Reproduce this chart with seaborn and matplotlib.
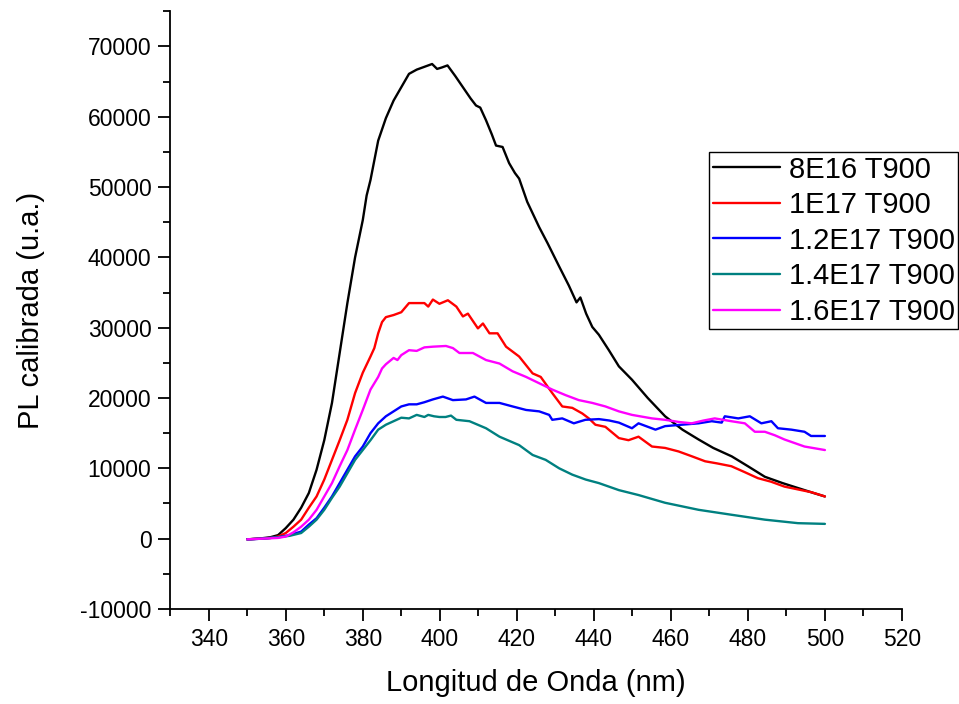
import matplotlib
matplotlib.use("Agg")
import matplotlib.pyplot as plt
from matplotlib.ticker import MultipleLocator
import pandas as pd
import seaborn as sns

# Photoluminescence spectra, samples annealed at 900
series_names = ["8E16 T900", "1E17 T900", "1.2E17 T900", "1.4E17 T900", "1.6E17 T900"]
series_colors = ["#000000", "#FF0000", "#0000FF", "#008080", "#FF00FF"]

wl_8e16 = [350, 353, 356, 358, 360, 362, 364, 366, 368, 370, 372, 374, 376, 378, 380,
           381, 382, 384, 386, 388, 390, 392, 394, 396, 398, 399.3, 400.5, 402, 404, 406,
           408, 409.4, 410.5, 412, 413.5, 414.6, 416.3, 418, 419.5, 420.6, 422.7, 425.8, 428,
           431, 433.5, 435.5, 436.5, 438, 439.6, 441.3, 443.9, 446.5, 449.9, 454, 458.5, 463,
           467.2, 471, 475.8, 480, 484.4, 489, 493, 497, 500]
pl_8e16 = [-100, 0, 200, 500, 1500, 2700, 4400, 6500, 9800, 14000, 19300, 26400, 33500, 40000,
           45300, 48800, 51000, 56600, 59800, 62300, 64200, 66100, 66700, 67100, 67500, 66800,
           67000, 67300, 65800, 64200, 62600, 61600, 61300, 59500, 57500, 55900, 55700, 53400,
           52000, 51200, 47900, 44300, 42000, 38700, 36000, 33600, 34300, 32000, 30100, 29000,
           26800, 24500, 22600, 20000, 17400, 15500, 14100, 12900, 11700, 10300, 8800, 7900,
           7200, 6500, 6000]

wl_1e17 = [350, 353, 356, 358, 360, 362, 364, 366, 368, 370, 372, 374, 376, 378, 380, 382, 383,
           384, 385, 386, 388, 390, 392, 394, 396, 397, 398.2, 399.9, 402.1, 404.3, 406, 407.3,
           409.9, 411.2, 412.9, 415, 417.2, 420.6, 424.1, 426.2, 429.2, 431.8, 434.4, 437,
           438.7, 440.4, 443, 446.5, 449, 451.6, 455.1, 458.5, 462, 465.5, 468.9, 472, 475.7,
           479, 482.6, 486, 489.5, 493, 496.5, 500]
pl_1e17 = [-100, 0, 100, 300, 800, 1700, 2700, 4400, 6000, 8400, 11200, 14000, 16900, 20700,
           23600, 25900, 27100, 29200, 30800, 31500, 31800, 32200, 33500, 33500, 33500, 33000,
           34000, 33400, 33900, 33000, 31600, 32000, 29900, 30600, 29200, 29200, 27300, 25900,
           23500, 23000, 20700, 18800, 18600, 17800, 17100, 16200, 15900, 14300, 14000, 14500,
           13100, 12900, 12400, 11700, 11000, 10700, 10300, 9500, 8600, 8100, 7400, 7000, 6600,
           6000]

wl_12e17 = [350, 354, 358, 361, 364, 366, 368, 370, 372, 374, 376, 378, 380, 382, 384, 386, 388,
            390, 392, 394, 396, 398.2, 400.8, 403.4, 406.8, 409, 412, 415.5, 418.9, 422.4,
            425.8, 428.4, 429.2, 431.8, 434.8, 437.8, 441.3, 444, 446.5, 449.9, 451.6, 456,
            458.5, 462.8, 467.2, 470.6, 473.2, 474, 477.5, 480.5, 483.5, 486.1, 487.8, 491.3,
            494.7, 496.4, 500]
pl_12e17 = [-100, 0, 200, 500, 1000, 2000, 2900, 4400, 6000, 7900, 9800, 11700, 13100, 15000,
            16400, 17400, 18100, 18800, 19100, 19100, 19400, 19800, 20200, 19700, 19800, 20200,
            19300, 19300, 18800, 18300, 18100, 17600, 16900, 17100, 16400, 16900, 17000, 16800,
            16500, 15700, 16400, 15500, 16000, 16200, 16400, 16700, 16500, 17400, 17100, 17400,
            16400, 16700, 15700, 15500, 15200, 14600, 14600]

wl_14e17 = [350, 354, 358, 361, 364, 366, 368, 370, 372, 374, 376, 378, 380, 382, 384, 386, 388,
            390, 392, 394, 396, 397, 398.5, 399.9, 401.5, 402.9, 404.3, 407.7, 412, 415.5,
            420.6, 424.1, 427.5, 431, 434.4, 437.9, 441.3, 446.5, 451.6, 458.5, 467.2, 475.7,
            484.4, 493, 500]
pl_14e17 = [-100, 0, 200, 400, 800, 1700, 2700, 4100, 5800, 7400, 9300, 11200, 12600, 14000,
            15500, 16200, 16700, 17200, 17100, 17600, 17300, 17600, 17400, 17300, 17300, 17500,
            16900, 16700, 15700, 14500, 13300, 11900, 11200, 10000, 9100, 8400, 7900, 6900,
            6200, 5100, 4100, 3400, 2700, 2200, 2100]

wl_16e17 = [350, 354, 358, 360, 362, 364, 366, 368, 370, 372, 374, 376, 378, 380, 382, 384, 385,
            386, 388, 389, 390, 392, 394, 396, 398.2, 401.6, 403.4, 405.1, 408.6, 412, 415.5,
            418.9, 422.4, 425.8, 429.2, 432.7, 436.1, 439.6, 443, 446.5, 449.9, 455.1, 458.5,
            462, 465.4, 468.5, 471.4, 475.7, 479.2, 481.8, 484.4, 487, 489.5, 494.7, 500]
pl_16e17 = [-100, 0, 100, 300, 900, 1700, 2700, 4100, 6000, 7900, 10300, 12600, 15500, 18300,
            21200, 23000, 24200, 24800, 25700, 25400, 26100, 26800, 26700, 27200, 27300, 27400,
            27100, 26400, 26400, 25400, 24900, 23800, 23000, 22100, 21200, 20400, 19700, 19300,
            18800, 18100, 17600, 17100, 16900, 16600, 16400, 16800, 17100, 16700, 16400, 15200,
            15200, 14700, 14100, 13100, 12600]

x_ticks = [340, 360, 380, 400, 420, 440, 460, 480, 500, 520]
y_ticks = [-10000, 0, 10000, 20000, 30000, 40000, 50000, 60000, 70000]

spectra = [(wl_8e16, pl_8e16), (wl_1e17, pl_1e17), (wl_12e17, pl_12e17),
           (wl_14e17, pl_14e17), (wl_16e17, pl_16e17)]

sns.set_style("ticks")
plt.rcParams["font.family"] = ["Liberation Sans", "DejaVu Sans"]
plt.rcParams["axes.unicode_minus"] = False
plt.rcParams["text.color"] = "black"
plt.rcParams["axes.labelcolor"] = "black"

fig = plt.figure(figsize=(9.59, 7.04), dpi=100)
ax = fig.add_axes([0.1775, 0.135, 0.7630, 0.849])

for name, color, (wl, pl) in zip(series_names, series_colors, spectra):
    df = pd.DataFrame({"wl": wl, "pl": pl})
    sns.lineplot(data=df, x="wl", y="pl", color=color, linewidth=1.7, label=name,
                 estimator=None, sort=False, ax=ax)

ax.set_xlim(330, 520)
ax.set_ylim(-10000, 75000)
ax.set_xticks(x_ticks)
ax.set_yticks(y_ticks)
ax.xaxis.set_minor_locator(MultipleLocator(10))
ax.yaxis.set_minor_locator(MultipleLocator(5000))

for side in ["top", "right"]:
    ax.spines[side].set_visible(False)
for side in ["left", "bottom"]:
    ax.spines[side].set_linewidth(1.3)
    ax.spines[side].set_color("black")

ax.tick_params(axis="both", which="major", direction="out", length=8.5, width=1.3,
               labelsize=16.5, colors="black", pad=5)
ax.tick_params(axis="both", which="minor", direction="out", length=5, width=1.3,
               colors="black")

ax.set_xlabel("Longitud de Onda (nm)", fontsize=21, labelpad=13.5, color="black")
ax.set_ylabel("PL calibrada (u.a.)", fontsize=21, labelpad=25, color="black")

leg = ax.legend(loc="upper right", bbox_to_anchor=(958 / 959, 1 - 152 / 704),
                bbox_transform=fig.transFigure, fontsize=21, frameon=True,
                fancybox=False, framealpha=1, edgecolor="black", borderaxespad=0,
                borderpad=0.12, labelspacing=0.26, handlelength=2.3, handletextpad=0.3)
leg.get_frame().set_linewidth(1.0)
for text in leg.get_texts():
    text.set_color("black")
for line in leg.get_lines():
    line.set_linewidth(1.7)

fig.savefig("out.png", dpi=100)
